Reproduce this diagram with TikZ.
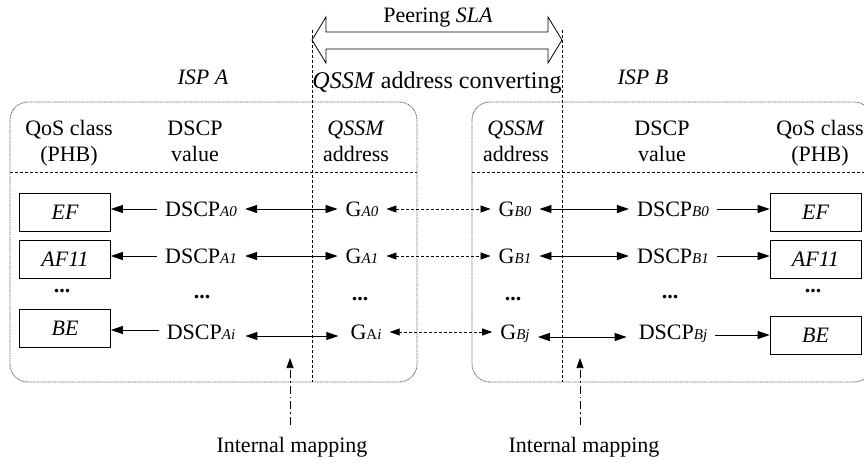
\documentclass[tikz,border=0pt]{standalone}
\usepackage{fontspec}
\setmainfont{Liberation Serif}
\usetikzlibrary{arrows.meta}
\newcommand\sz{\fontsize{22}{26}\selectfont}
\newcommand\subi[1]{{\fontsize{15}{15}\selectfont\itshape #1}}
\newcommand\subu[1]{{\fontsize{15}{15}\selectfont #1}}
\begin{document}
\begin{tikzpicture}[x=1pt,y=-1pt,
  font=\sz,
  rowtxt/.style={inner xsep=8pt, inner ysep=0pt, text height=14.6pt, text depth=0pt},
  hdr/.style={align=center, anchor=base, inner sep=0pt},
  lbl/.style={anchor=base, inner sep=0pt},
  cls/.style={draw, line width=0.7pt, minimum width=91pt, minimum height=38pt, inner sep=0pt, font=\sz\itshape},
  dots/.style={anchor=base, inner sep=0pt, font=\sz\bfseries},
  arr/.style={line width=0.9pt, -{Triangle[length=12pt,width=8pt]}},
  dbl/.style={line width=0.9pt, {Triangle[length=12pt,width=8pt]}-{Triangle[length=12pt,width=8pt]}},
  dotdbl/.style={line width=0.7pt, dash pattern=on 3pt off 2pt, {Triangle[length=10pt,width=7pt]}-{Triangle[length=10pt,width=7pt]}},
  mapline/.style={line width=0.7pt, dash pattern=on 8pt off 3pt on 1.5pt off 3pt, -{Triangle[length=10pt,width=7pt]}},
  isp/.style={rounded corners=18pt, draw=black!65, line width=0.8pt, dash pattern=on 1pt off 0.7pt},
  sep/.style={line width=0.7pt, dash pattern=on 3pt off 2pt},
  hollow/.style={line width=0.8pt, line join=miter}
]
\useasboundingbox (0,0) rectangle (864,464);

% ISP boxes
\draw[isp] (10,102) rectangle (417,382);
\draw[isp] (472,102) rectangle (872,382);
\draw[sep] (10,172) -- (417,172);
\draw[sep] (472,172) -- (864,172);

% vertical separators
\coordinate (vAt) at (312,30);
\coordinate (vAb) at (312,382);
\coordinate (vBt) at (562,30);
\coordinate (vBb) at (562,382);
\draw[sep] (vAt) -- (vAb);
\draw[sep] (vBt) -- (vBb);

% peering SLA hollow arrow
\draw[hollow, fill=white] (312,40) -- (326,17) -- (326,32) -- (548,32) -- (548,17)
  -- (562,40) -- (548,63) -- (548,49) -- (326,49) -- (326,63) -- cycle;
\node[lbl] (sla) at (438,22) {Peering \textit{SLA}};
\node[lbl, font=\fontsize{24}{28}\selectfont] (conv) at (437,88) {\textit{QSSM} address converting};
\node[lbl, font=\sz\itshape] (ispA) at (203,84) {ISP A};
\node[lbl, font=\sz\itshape] (ispB) at (643,84) {ISP B};

% headers (base anchor = baseline of last line)
\node[hdr] (hQA) at (69,161) {QoS class\\(PHB)};
\node[hdr] (hDA) at (195,161) {DSCP\\value};
\node[hdr] (hGA) at (356,161) {\textit{QSSM}\\address};
\node[hdr] (hGB) at (516,161) {\textit{QSSM}\\address};
\node[hdr] (hDB) at (662,161) {DSCP\\value};
\node[hdr] (hQB) at (820,161) {QoS class\\(PHB)};

% class boxes
\node[cls] (efA) at (65,212) {EF};
\node[cls] (afA) at (65,259) {AF11};
\node[cls] (beA) at (65,328.5) {BE};
\node[cls] (efB) at (815.5,212) {EF};
\node[cls] (afB) at (815.5,259) {AF11};
\node[cls] (beB) at (815.5,335.5) {BE};

% row texts
\node[rowtxt] (dA0) at (201,209) {DSCP\subi{A0}};
\node[rowtxt] (gA0) at (362,209) {G\subi{A0}};
\node[rowtxt] (gB0) at (515,209) {G\subi{B0}};
\node[rowtxt] (dB0) at (673,209) {DSCP\subi{B0}};

\node[rowtxt] (dA1) at (201,256) {DSCP\subi{A1}};
\node[rowtxt] (gA1) at (362,256) {G\subi{A1}};
\node[rowtxt] (gB1) at (515,256) {G\subi{B1}};
\node[rowtxt] (dB1) at (673,256) {DSCP\subi{B1}};

\node[rowtxt] (dAi) at (201,332) {DSCP\subi{Ai}};
\node[rowtxt] (gAi) at (366,332) {G\subu{A}\subi{i}};
\node[rowtxt] (gBj) at (515,332) {G\subi{Bj}};
\node[rowtxt] (dBj) at (673,332) {DSCP\subi{Bj}};

% dots
\node[dots] (o1) at (62,292) {...};
\node[dots] (o2) at (202,298) {...};
\node[dots] (o3) at (360,300) {...};
\node[dots] (o4) at (513,300) {...};
\node[dots] (o5) at (670,298) {...};
\node[dots] (o6) at (813,292) {...};

% row 0
\draw[arr] (dA0.west) -- (dA0.west -| efA.east);
\draw[dbl] (dA0.east) -- (gA0.west);
\draw[dotdbl] (gA0.east) -- (gB0.west);
\draw[dbl] (gB0.east) -- (dB0.west);
\draw[arr] (dB0.east) -- (dB0.east -| efB.west);
% row 1
\draw[arr] (dA1.west) -- (dA1.west -| afA.east);
\draw[dbl] (dA1.east) -- (gA1.west);
\draw[dotdbl] (gA1.east) -- (gB1.west);
\draw[dbl] (gB1.east) -- (dB1.west);
\draw[arr] (dB1.east) -- (dB1.east -| afB.west);
% row i
\draw[arr] ([yshift=2pt]dAi.west) -- ([yshift=2pt]dAi.west -| beA.east);
\draw[dbl] ([xshift=2pt,yshift=-4pt]dAi.east) -- ([xshift=-4pt,yshift=-4pt]gAi.west);
\draw[dotdbl] (gAi.east) -- (gBj.west);
\draw[dbl] ([yshift=-5pt]gBj.east) -- ([xshift=-4pt,yshift=-5pt]dBj.west);
\draw[arr] ([yshift=-3pt]dBj.east) -- ([yshift=-3pt]dBj.east -| beB.west);

% internal mapping
\node[lbl] (imA) at (292,452) {Internal mapping};
\node[lbl] (imB) at (584,452) {Internal mapping};
\coordinate (imAtip) at (290,358);
\coordinate (imBtip) at (580,358);
\draw[mapline] ([xshift=-2pt,yshift=12pt]imA.north) -- (imAtip);
\draw[mapline] ([xshift=-4pt,yshift=12pt]imB.north) -- (imBtip);
\end{tikzpicture}
\end{document}
